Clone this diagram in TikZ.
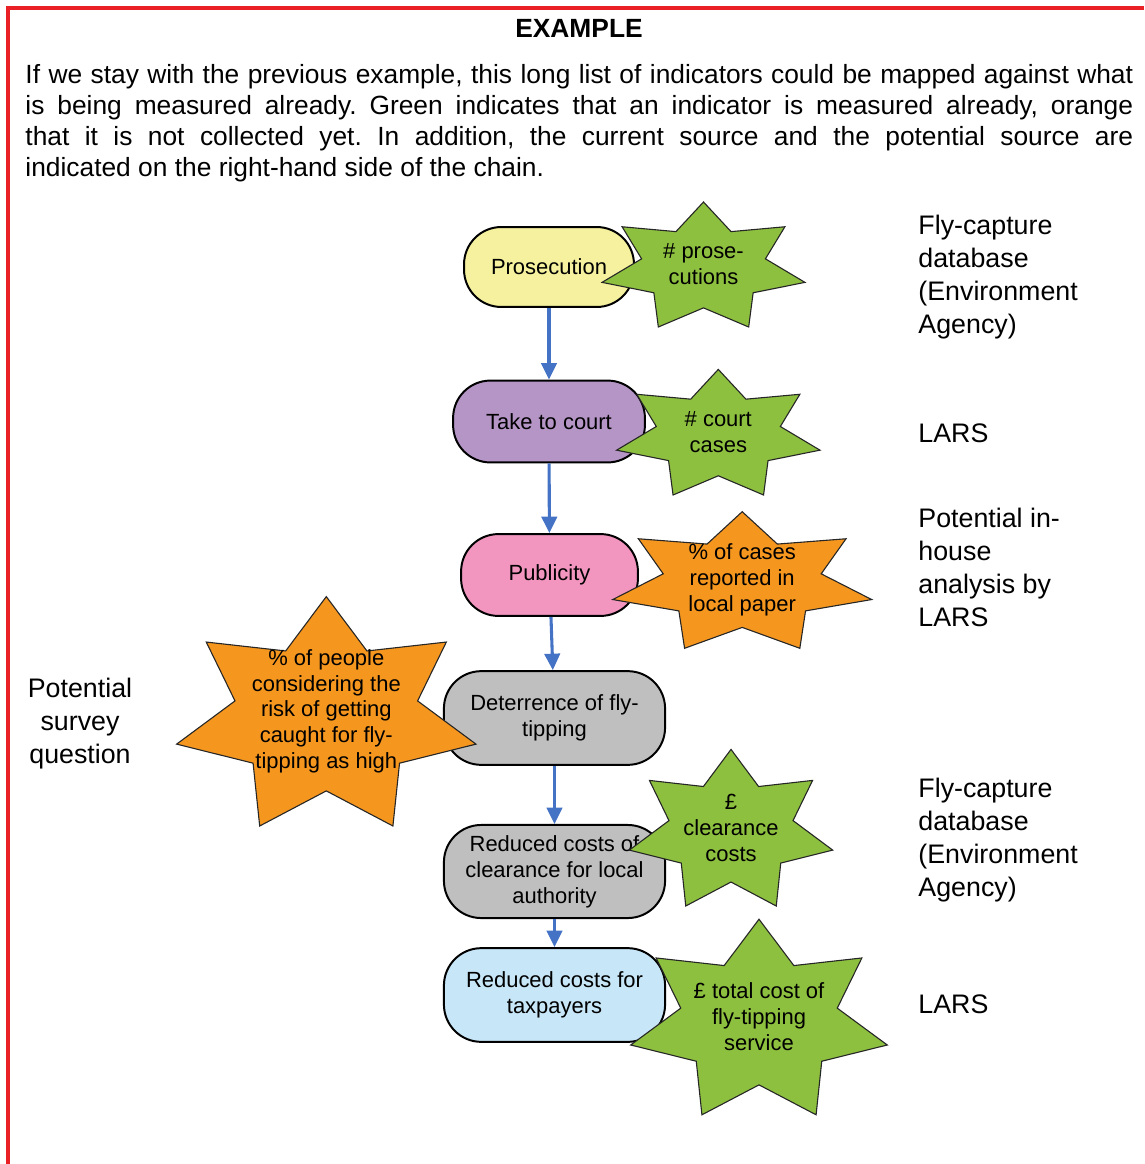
\documentclass[tikz,border=0pt]{standalone}
\usepackage{fontspec}
\setmainfont{Liberation Sans}
\usetikzlibrary{arrows.meta}
\frenchspacing

\definecolor{framered}{RGB}{233,33,39}
\definecolor{chainblue}{RGB}{68,114,196}
\definecolor{boxyellow}{RGB}{245,241,158}
\definecolor{boxpurple}{RGB}{181,149,198}
\definecolor{boxpink}{RGB}{242,150,191}
\definecolor{boxgrey}{RGB}{191,191,191}
\definecolor{boxblue}{RGB}{199,230,247}
\definecolor{stargreen}{RGB}{141,192,63}
\definecolor{starorange}{RGB}{245,150,31}

% seven-point star stretched into its box: name, centre, half width, half height, fill, text
\newcommand{\sevenstar}[6]{%
  \draw[starline, fill=#5, shift={#2}] (0,#4)
    \foreach \k in {1,...,13} {
      -- ({#3*cos(90+\k*180/7)*(isodd(\k)?0.61:1)/0.975},
          {#4*(1.0521*sin(90+\k*180/7)*(isodd(\k)?0.61:1)-0.0521)})
    } -- cycle;
  \node[startext] (#1) at #2 {#6};
}

\begin{document}
\begin{tikzpicture}
	[x=0.016cm, y=0.016cm,
	block/.style={draw, line width=0.9pt, rounded corners=17pt, align=center, inner sep=2pt, font=\fontsize{10}{11.8}\selectfont},
	starline/.style={draw=black!85, line width=0.5pt, line join=miter},
	startext/.style={align=center, inner sep=0pt, font=\fontsize{10}{11.8}\selectfont},
	source/.style={anchor=north west, align=left, inner sep=0pt, font=\fontsize{12.2}{14.9}\selectfont},
	flow/.style={-{Triangle[length=7.5pt,width=7pt]}, line width=1.4pt, draw=chainblue}]
	\useasboundingbox (0,0) rectangle (1144,-1164);
	\draw[framered, line width=1.8pt] (8,-1164) -- (8,-8) -- (1144,-8);

	\node[inner sep=0pt, font=\bfseries\fontsize{12}{14}\selectfont] (head) at (579,-28) {EXAMPLE};
	\node[anchor=north west, inner sep=0pt, text width=17.73cm, align=justify, font=\fontsize{12}{14.1}\selectfont] (intro) at (25,-64)
		{If we stay with the previous example, this long list of indicators could be mapped against what\linebreak
		is being measured already. Green indicates that an indicator is measured already, orange\linebreak
		that it is not collected yet. In addition, the current source and the potential source are\linebreak
		indicated on the right-hand side of the chain.};

	% the chain
	\node[block, fill=boxyellow, minimum width=2.72cm, minimum height=1.28cm] (b1) at (549,-267) {Prosecution};
	\node[block, fill=boxpurple, minimum width=3.07cm, minimum height=1.31cm] (b2) at (549,-421.5) {Take to court};
	\node[block, fill=boxpink, minimum width=2.83cm, minimum height=1.31cm] (b3) at (549.5,-575) {Publicity};
	\node[block, fill=boxgrey, minimum width=3.54cm, minimum height=1.5cm] (b4) at (554.5,-718) {Deterrence of fly-\\tipping};
	\node[block, fill=boxgrey, minimum width=3.54cm, minimum height=1.49cm] (b5) at (554.5,-871.5) {Reduced costs of\\clearance for local\\authority};
	\node[block, fill=boxblue, minimum width=3.54cm, minimum height=1.5cm] (b6) at (554.5,-995) {Reduced costs for\\taxpayers};
	\draw[flow] (b1) -- (b2);
	\draw[flow] (b2) -- (b3);
	\draw[flow] (b3) -- (b4);
	\draw[flow] (b4) -- (b5);
	\draw[flow] (b5) -- (b6);

	% indicators
	\sevenstar{s1}{(703.5,-264.5)}{101.5}{62.5}{stargreen}{\# prose-\\cutions}
	\sevenstar{s2}{(718.3,-432.2)}{101.7}{62.8}{stargreen}{\# court\\cases}
	\sevenstar{s3}{(742.2,-580)}{129.5}{68.3}{starorange}{\% of cases\\reported in\\local paper}
	\sevenstar{s4}{(326.3,-711.3)}{149.7}{114.7}{starorange}{\% of people\\considering the\\risk of getting\\caught for fly-\\tipping as high}
	\sevenstar{s5}{(731,-827.7)}{101.7}{78.3}{stargreen}{£\\clearance\\costs}
	\sevenstar{s6}{(759,-1017)}{128.3}{97.8}{stargreen}{£ total cost of\\fly-tipping\\service}

	% sources
	\node[source] (src1) at (918,-215) {Fly-capture\\database\\(Environment\\Agency)};
	\node[source, anchor=west] (src2) at (918,-433) {LARS};
	\node[source] (src3) at (918,-508) {Potential in-\\house\\analysis by\\LARS};
	\node[source] (src4) at (918,-778) {Fly-capture\\database\\(Environment\\Agency)};
	\node[source, anchor=west] (src5) at (918,-1004) {LARS};
	\node[source, anchor=north, align=center] (survey) at (80,-678) {Potential\\survey\\question};
\end{tikzpicture}
\end{document}
